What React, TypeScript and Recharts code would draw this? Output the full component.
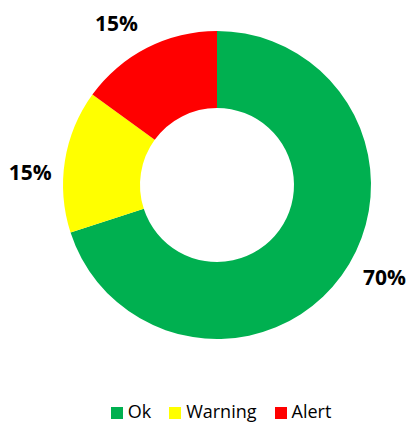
import React from "react";
import { PieChart, Pie, Cell, Legend } from "recharts";

const categories = ["Ok", "Warning", "Alert"];
const values = [70, 15, 15];
const colors = ["#00B050", "#FFFF00", "#FF0000"];

const data = categories.map((name, i) => ({ name, value: values[i] }));
const total = values.reduce((a, b) => a + b, 0);

const RAD = Math.PI / 180;

const renderLabel = (props: any) => {
  const { cx, cy, midAngle, outerRadius, value } = props;
  const r = outerRadius + 36;
  const a = (midAngle + 6) * RAD;
  const x = cx + r * Math.cos(a) + 3;
  const y = cy - r * Math.sin(a) - 3;
  return (
    <text
      x={x}
      y={y}
      textAnchor="middle"
      dominantBaseline="central"
      fill="#000"
      fontFamily="'Open Sans', sans-serif"
      fontWeight="bold"
      fontSize={21}
    >
      {Math.round((value / total) * 100) + "%"}
    </text>
  );
};

const renderLegend = () => (
  <div
    style={{
      display: "flex",
      justifyContent: "center",
      alignItems: "center",
      fontFamily: "'Open Sans', sans-serif",
      fontSize: 18,
      lineHeight: "18px",
      height: 18,
      color: "#000",
      paddingLeft: 33,
    }}
  >
    {categories.map((c, i) => (
      <div
        key={c}
        style={{ display: "flex", alignItems: "center", marginRight: i < categories.length - 1 ? 18 : 0 }}
      >
        <span
          style={{
            display: "inline-block",
            width: 12,
            height: 12,
            background: colors[i],
            marginRight: 5,
            marginTop: 3,
          }}
        />
        <span>{c}</span>
      </div>
    ))}
  </div>
);

export default function App() {
  return (
    <div style={{ position: "absolute", left: 0, top: 0, width: 409, height: 423, background: "#fff" }}>
      <PieChart width={409} height={423} margin={{ top: 0, right: 0, bottom: 0, left: 0 }}>
        <Pie
          data={data}
          dataKey="value"
          nameKey="name"
          cx={217}
          cy={185}
          outerRadius={154}
          innerRadius={77}
          startAngle={90}
          endAngle={-270}
          stroke="none"
          label={renderLabel}
          labelLine={false}
          isAnimationActive={false}
        >
          {data.map((d, i) => (
            <Cell key={d.name} fill={colors[i]} />
          ))}
        </Pie>
        <Legend
          content={renderLegend}
          wrapperStyle={{ position: "absolute", left: 0, top: 402, width: 409, height: 18 }}
        />
      </PieChart>
    </div>
  );
}
